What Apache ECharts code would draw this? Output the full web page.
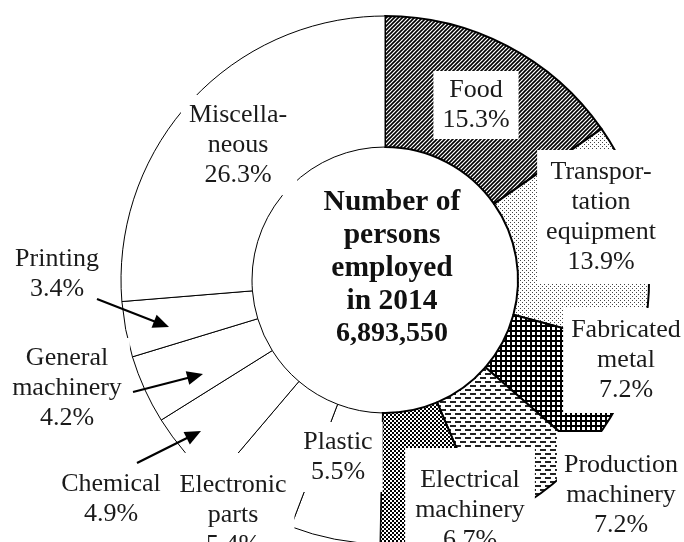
<!DOCTYPE html>
<html>
<head>
<meta charset="utf-8">
<script src="https://cdn.jsdelivr.net/npm/echarts@6/dist/echarts.min.js"></script>
<style>
html,body{margin:0;padding:0;background:#fff;}
#chart{width:684px;height:542px;}
</style>
</head>
<body>
<div id="chart"></div>
<script>
// ---- data ----
var categories = ['Food', 'Transportation equipment', 'Fabricated metal', 'Production machinery',
  'Electrical machinery', 'Plastic', 'Electronic parts', 'Chemical', 'General machinery',
  'Printing', 'Miscellaneous'];
var labelNames = ['Food', 'Transpor-\ntation\nequipment', 'Fabricated\nmetal', 'Production\nmachinery',
  'Electrical\nmachinery', 'Plastic', 'Electronic\nparts', 'Chemical', 'General\nmachinery',
  'Printing', 'Miscella-\nneous'];
var shares = [15.3, 13.9, 7.2, 7.2, 6.7, 5.5, 5.4, 4.9, 4.2, 3.4, 26.3];
var patterns = ['diag', 'dots', 'grid', 'dash', 'check', 'none', 'none', 'none', 'none', 'none', 'none'];
var centerLines = ['Number of', 'persons', 'employed', 'in 2014'];
var totalPersons = '6,893,550';

// ---- styling / layout ----
function makePattern(kind) {
  var c = document.createElement('canvas');
  var ctx;
  if (kind === 'diag') {
    c.width = 4; c.height = 4; ctx = c.getContext('2d');
    ctx.fillStyle = '#fff'; ctx.fillRect(0, 0, 4, 4);
    ctx.strokeStyle = '#000'; ctx.lineWidth = 1.6;
    ctx.beginPath();
    ctx.moveTo(-1, 5); ctx.lineTo(5, -1);
    ctx.moveTo(-3, 3); ctx.lineTo(3, -3);
    ctx.moveTo(1, 7); ctx.lineTo(7, 1);
    ctx.stroke();
  } else if (kind === 'dots') {
    c.width = 4; c.height = 4; ctx = c.getContext('2d');
    ctx.fillStyle = '#fff'; ctx.fillRect(0, 0, 4, 4);
    ctx.fillStyle = '#444';
    ctx.fillRect(0, 0, 1, 1); ctx.fillRect(2, 2, 1, 1);
  } else if (kind === 'grid') {
    c.width = 5; c.height = 5; ctx = c.getContext('2d');
    ctx.fillStyle = '#fff'; ctx.fillRect(0, 0, 5, 5);
    ctx.fillStyle = '#000';
    ctx.fillRect(0, 0, 5, 2); ctx.fillRect(0, 0, 2, 5);
  } else if (kind === 'dash') {
    c.width = 10; c.height = 8; ctx = c.getContext('2d');
    ctx.fillStyle = '#fff'; ctx.fillRect(0, 0, 10, 8);
    ctx.fillStyle = '#222';
    ctx.fillRect(0, 1, 6, 2);
    ctx.fillRect(5, 5, 5, 2); ctx.fillRect(0, 5, 1, 2);
  } else if (kind === 'check') {
    c.width = 4; c.height = 4; ctx = c.getContext('2d');
    ctx.fillStyle = '#fff'; ctx.fillRect(0, 0, 4, 4);
    ctx.fillStyle = '#000';
    ctx.fillRect(0, 0, 2, 2); ctx.fillRect(2, 2, 2, 2);
  } else {
    return '#ffffff';
  }
  return { image: c, repeat: 'repeat' };
}

// label boxes: text centre and padding [top, right, bottom, left]
var labelBoxes = [
  { c: [476, 103], p: [2, 9, 6, 9] },
  { c: [601, 215], p: [5, 40, 9, 9] },
  { c: [626, 359], p: [6, 40, 9, 8] },
  { c: [621, 483], p: [6, 40, 30, 7] },
  { c: [470, 498], p: [5, 10, 30, 10] },
  { c: [338, 458], p: [6, 10, 4, 4] },
  { c: [233, 503], p: [5, 8, 30, 2] },
  { c: [111, 496], p: [3, 4, 10, 4] },
  { c: [67, 388], p: [5, 8, 5, 10] },
  { c: [57, 274], p: [4, 4, 4, 4] },
  { c: [238, 146], p: [6, 10, 4, 8] }
];

var FONT = '"Liberation Serif", "Times New Roman", serif';

var data = categories.map(function (name, i) {
  var patterned = patterns[i] !== 'none';
  return {
    name: name,
    value: shares[i],
    itemStyle: {
      color: makePattern(patterns[i]),
      borderColor: '#000',
      borderWidth: patterned ? 2 : 1
    },
    label: { padding: labelBoxes[i].p }
  };
});

var chart = echarts.init(document.getElementById('chart'), null, { renderer: 'canvas' });

function arrow(tail, tip) {
  var dx = tip[0] - tail[0], dy = tip[1] - tail[1];
  var len = Math.sqrt(dx * dx + dy * dy);
  var ux = dx / len, uy = dy / len;
  var hl = 16, hw = 7;
  var bx = tip[0] - ux * hl, by = tip[1] - uy * hl;
  return [
    { type: 'line', z: 100, shape: { x1: tail[0], y1: tail[1], x2: bx + ux * 2, y2: by + uy * 2 },
      style: { stroke: '#000', lineWidth: 2.2 } },
    { type: 'polygon', z: 100, shape: { points: [tip, [bx - uy * hw, by + ux * hw], [bx + uy * hw, by - ux * hw]] },
      style: { fill: '#000' } }
  ];
}

var arrows = [].concat(
  arrow([97, 299], [169, 327]),
  arrow([133, 392], [203, 374]),
  arrow([137, 463], [201, 431])
);

var centerText = centerLines.map(function (l) { return '{a|' + l + '}'; }).join('\n') +
  '\n{b|' + totalPersons + '}';

var option = {
  animation: false,
  backgroundColor: '#fff',
  series: [{
    type: 'pie',
    center: [385, 280],
    radius: [133, 264],
    startAngle: 90,
    clockwise: true,
    silent: true,
    avoidLabelOverlap: false,
    data: data,
    label: {
      show: true,
      position: 'inside',
      formatter: function (p) {
        return labelNames[p.dataIndex] + '\n' + p.value.toFixed(1) + '%';
      },
      fontFamily: FONT,
      fontSize: 26,
      lineHeight: 30,
      color: '#1a1a1a',
      backgroundColor: '#fff',
      align: 'center'
    },
    labelLine: { show: false },
    labelLayout: function (params) {
      var b = labelBoxes[params.dataIndex];
      var p = b.p;
      return {
        x: b.c[0] - (p[3] - p[1]) / 2,
        y: b.c[1] - (p[0] - p[2]) / 2,
        align: 'center',
        verticalAlign: 'middle'
      };
    }
  }],
  graphic: [
    {
      type: 'text',
      x: 392, y: 268, z: 50,
      style: {
        text: centerText,
        align: 'center',
        verticalAlign: 'middle',
        fill: '#111',
        rich: {
          a: { font: 'bold 29.5px ' + FONT, lineHeight: 33, fill: '#111', align: 'center' },
          b: { font: 'bold 28px ' + FONT, lineHeight: 32, fill: '#111', align: 'center' }
        }
      }
    }
  ].concat(arrows)
};

chart.setOption(option);
</script>
</body>
</html>
